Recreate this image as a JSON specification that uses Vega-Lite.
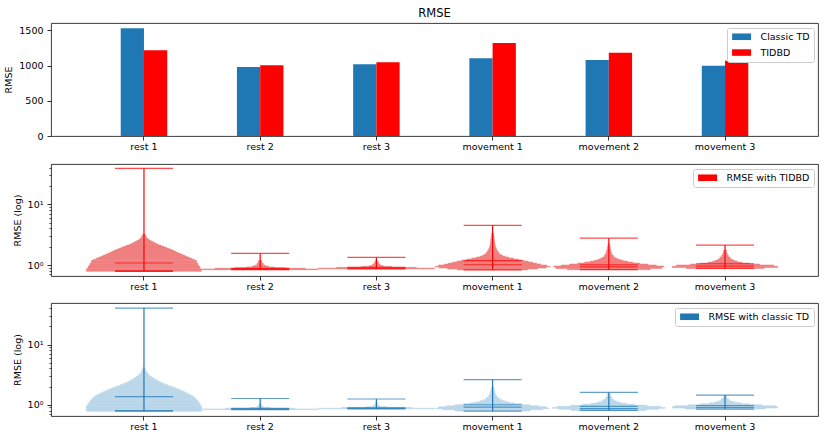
{
  "$schema": "https://vega.github.io/schema/vega-lite/v6.json",
  "background": "white",
  "padding": {"left": 3, "top": 7, "right": 12, "bottom": 0},
  "spacing": 10,
  "datasets": {
    "bars": [
      {"task": "rest 1", "method": "Classic TD", "rmse": 1528},
      {"task": "rest 1", "method": "TIDBD", "rmse": 1216},
      {"task": "rest 2", "method": "Classic TD", "rmse": 979},
      {"task": "rest 2", "method": "TIDBD", "rmse": 1003},
      {"task": "rest 3", "method": "Classic TD", "rmse": 1017},
      {"task": "rest 3", "method": "TIDBD", "rmse": 1046},
      {"task": "movement 1", "method": "Classic TD", "rmse": 1102},
      {"task": "movement 1", "method": "TIDBD", "rmse": 1320},
      {"task": "movement 2", "method": "Classic TD", "rmse": 1078},
      {"task": "movement 2", "method": "TIDBD", "rmse": 1182},
      {"task": "movement 3", "method": "Classic TD", "rmse": 998},
      {"task": "movement 3", "method": "TIDBD", "rmse": 1069}
    ],
    "tidbd": [
      {"task": "rest 1", "lo": 0.788, "hi": 0.871, "w": 0.989},
      {"task": "rest 1", "lo": 0.871, "hi": 0.963, "w": 0.961},
      {"task": "rest 1", "lo": 0.963, "hi": 1.072, "w": 0.932},
      {"task": "rest 1", "lo": 1.072, "hi": 1.194, "w": 0.903},
      {"task": "rest 1", "lo": 1.194, "hi": 1.247, "w": 0.865},
      {"task": "rest 1", "lo": 1.247, "hi": 1.302, "w": 0.82},
      {"task": "rest 1", "lo": 1.302, "hi": 1.352, "w": 0.777},
      {"task": "rest 1", "lo": 1.352, "hi": 1.404, "w": 0.738},
      {"task": "rest 1", "lo": 1.404, "hi": 1.458, "w": 0.698},
      {"task": "rest 1", "lo": 1.458, "hi": 1.514, "w": 0.657},
      {"task": "rest 1", "lo": 1.514, "hi": 1.573, "w": 0.618},
      {"task": "rest 1", "lo": 1.573, "hi": 1.634, "w": 0.578},
      {"task": "rest 1", "lo": 1.634, "hi": 1.697, "w": 0.542},
      {"task": "rest 1", "lo": 1.697, "hi": 1.762, "w": 0.508},
      {"task": "rest 1", "lo": 1.762, "hi": 1.829, "w": 0.469},
      {"task": "rest 1", "lo": 1.829, "hi": 1.899, "w": 0.426},
      {"task": "rest 1", "lo": 1.899, "hi": 1.972, "w": 0.383},
      {"task": "rest 1", "lo": 1.972, "hi": 2.048, "w": 0.34},
      {"task": "rest 1", "lo": 2.048, "hi": 2.127, "w": 0.295},
      {"task": "rest 1", "lo": 2.127, "hi": 2.21, "w": 0.248},
      {"task": "rest 1", "lo": 2.21, "hi": 2.295, "w": 0.208},
      {"task": "rest 1", "lo": 2.295, "hi": 2.383, "w": 0.176},
      {"task": "rest 1", "lo": 2.383, "hi": 2.475, "w": 0.144},
      {"task": "rest 1", "lo": 2.475, "hi": 2.57, "w": 0.111},
      {"task": "rest 1", "lo": 2.57, "hi": 2.669, "w": 0.084},
      {"task": "rest 1", "lo": 2.669, "hi": 2.771, "w": 0.063},
      {"task": "rest 1", "lo": 2.771, "hi": 2.988, "w": 0.04},
      {"task": "rest 1", "lo": 2.988, "hi": 3.222, "w": 0.022},
      {"task": "rest 2", "lo": 0.838, "hi": 0.86, "w": 0.998},
      {"task": "rest 2", "lo": 0.86, "hi": 0.883, "w": 0.775},
      {"task": "rest 2", "lo": 0.883, "hi": 0.905, "w": 0.43},
      {"task": "rest 2", "lo": 0.905, "hi": 0.927, "w": 0.241},
      {"task": "rest 2", "lo": 0.927, "hi": 0.963, "w": 0.138},
      {"task": "rest 2", "lo": 0.963, "hi": 1.0, "w": 0.086},
      {"task": "rest 2", "lo": 1.0, "hi": 1.078, "w": 0.052},
      {"task": "rest 2", "lo": 1.078, "hi": 1.185, "w": 0.028},
      {"task": "rest 3", "lo": 0.865, "hi": 0.89, "w": 0.998},
      {"task": "rest 3", "lo": 0.89, "hi": 0.915, "w": 0.688},
      {"task": "rest 3", "lo": 0.915, "hi": 0.94, "w": 0.258},
      {"task": "rest 3", "lo": 0.94, "hi": 0.98, "w": 0.12},
      {"task": "rest 3", "lo": 0.98, "hi": 1.03, "w": 0.069},
      {"task": "rest 3", "lo": 1.03, "hi": 1.1, "w": 0.038},
      {"task": "rest 3", "lo": 1.1, "hi": 1.18, "w": 0.021},
      {"task": "movement 1", "lo": 0.83, "hi": 0.86, "w": 0.602},
      {"task": "movement 1", "lo": 0.86, "hi": 0.893, "w": 0.775},
      {"task": "movement 1", "lo": 0.893, "hi": 0.927, "w": 0.921},
      {"task": "movement 1", "lo": 0.927, "hi": 0.945, "w": 0.993},
      {"task": "movement 1", "lo": 0.945, "hi": 1.0, "w": 0.933},
      {"task": "movement 1", "lo": 1.0, "hi": 1.038, "w": 0.826},
      {"task": "movement 1", "lo": 1.038, "hi": 1.078, "w": 0.757},
      {"task": "movement 1", "lo": 1.078, "hi": 1.12, "w": 0.685},
      {"task": "movement 1", "lo": 1.12, "hi": 1.163, "w": 0.611},
      {"task": "movement 1", "lo": 1.163, "hi": 1.208, "w": 0.534},
      {"task": "movement 1", "lo": 1.208, "hi": 1.254, "w": 0.444},
      {"task": "movement 1", "lo": 1.254, "hi": 1.302, "w": 0.358},
      {"task": "movement 1", "lo": 1.302, "hi": 1.352, "w": 0.279},
      {"task": "movement 1", "lo": 1.352, "hi": 1.404, "w": 0.215},
      {"task": "movement 1", "lo": 1.404, "hi": 1.459, "w": 0.17},
      {"task": "movement 1", "lo": 1.459, "hi": 1.514, "w": 0.138},
      {"task": "movement 1", "lo": 1.514, "hi": 1.634, "w": 0.108},
      {"task": "movement 1", "lo": 1.634, "hi": 1.762, "w": 0.083},
      {"task": "movement 1", "lo": 1.762, "hi": 1.899, "w": 0.064},
      {"task": "movement 1", "lo": 1.899, "hi": 2.048, "w": 0.052},
      {"task": "movement 1", "lo": 2.048, "hi": 2.21, "w": 0.043},
      {"task": "movement 1", "lo": 2.21, "hi": 2.383, "w": 0.036},
      {"task": "movement 1", "lo": 2.383, "hi": 2.668, "w": 0.031},
      {"task": "movement 1", "lo": 2.668, "hi": 2.988, "w": 0.024},
      {"task": "movement 1", "lo": 2.988, "hi": 3.347, "w": 0.017},
      {"task": "movement 2", "lo": 0.838, "hi": 0.876, "w": 0.714},
      {"task": "movement 2", "lo": 0.876, "hi": 0.927, "w": 0.912},
      {"task": "movement 2", "lo": 0.927, "hi": 0.963, "w": 0.947},
      {"task": "movement 2", "lo": 0.963, "hi": 1.0, "w": 0.818},
      {"task": "movement 2", "lo": 1.0, "hi": 1.038, "w": 0.671},
      {"task": "movement 2", "lo": 1.038, "hi": 1.078, "w": 0.534},
      {"task": "movement 2", "lo": 1.078, "hi": 1.12, "w": 0.413},
      {"task": "movement 2", "lo": 1.12, "hi": 1.163, "w": 0.318},
      {"task": "movement 2", "lo": 1.163, "hi": 1.208, "w": 0.241},
      {"task": "movement 2", "lo": 1.208, "hi": 1.254, "w": 0.181},
      {"task": "movement 2", "lo": 1.254, "hi": 1.302, "w": 0.138},
      {"task": "movement 2", "lo": 1.302, "hi": 1.352, "w": 0.107},
      {"task": "movement 2", "lo": 1.352, "hi": 1.459, "w": 0.077},
      {"task": "movement 2", "lo": 1.459, "hi": 1.575, "w": 0.053},
      {"task": "movement 2", "lo": 1.575, "hi": 1.762, "w": 0.038},
      {"task": "movement 2", "lo": 1.762, "hi": 1.973, "w": 0.026},
      {"task": "movement 2", "lo": 1.973, "hi": 2.21, "w": 0.017},
      {"task": "movement 3", "lo": 0.88, "hi": 0.91, "w": 0.671},
      {"task": "movement 3", "lo": 0.91, "hi": 0.952, "w": 0.907},
      {"task": "movement 3", "lo": 0.952, "hi": 1.0, "w": 0.838},
      {"task": "movement 3", "lo": 1.0, "hi": 1.038, "w": 0.594},
      {"task": "movement 3", "lo": 1.038, "hi": 1.078, "w": 0.422},
      {"task": "movement 3", "lo": 1.078, "hi": 1.12, "w": 0.293},
      {"task": "movement 3", "lo": 1.12, "hi": 1.163, "w": 0.21},
      {"task": "movement 3", "lo": 1.163, "hi": 1.208, "w": 0.158},
      {"task": "movement 3", "lo": 1.208, "hi": 1.254, "w": 0.122},
      {"task": "movement 3", "lo": 1.254, "hi": 1.352, "w": 0.088},
      {"task": "movement 3", "lo": 1.352, "hi": 1.459, "w": 0.057},
      {"task": "movement 3", "lo": 1.459, "hi": 1.575, "w": 0.038},
      {"task": "movement 3", "lo": 1.575, "hi": 1.762, "w": 0.024}
    ],
    "tidbd_stats": [
      {"task": "rest 1", "min": 0.788, "max": 38.9, "mean": 1.08, "median": 0.8},
      {"task": "rest 2", "min": 0.838, "max": 1.555, "mean": 0.88, "median": 0.86},
      {"task": "rest 3", "min": 0.865, "max": 1.34, "mean": 0.92, "median": 0.89},
      {"task": "movement 1", "min": 0.83, "max": 4.48, "mean": 1.18, "median": 1.01},
      {"task": "movement 2", "min": 0.838, "max": 2.77, "mean": 1.01, "median": 0.93},
      {"task": "movement 3", "min": 0.88, "max": 2.13, "mean": 1.05, "median": 0.96}
    ],
    "classic": [
      {"task": "rest 1", "lo": 0.779, "hi": 0.962, "w": 0.992},
      {"task": "rest 1", "lo": 0.962, "hi": 1.059, "w": 0.966},
      {"task": "rest 1", "lo": 1.059, "hi": 1.166, "w": 0.936},
      {"task": "rest 1", "lo": 1.166, "hi": 1.235, "w": 0.908},
      {"task": "rest 1", "lo": 1.235, "hi": 1.308, "w": 0.882},
      {"task": "rest 1", "lo": 1.308, "hi": 1.36, "w": 0.858},
      {"task": "rest 1", "lo": 1.36, "hi": 1.413, "w": 0.837},
      {"task": "rest 1", "lo": 1.413, "hi": 1.468, "w": 0.809},
      {"task": "rest 1", "lo": 1.468, "hi": 1.526, "w": 0.774},
      {"task": "rest 1", "lo": 1.526, "hi": 1.585, "w": 0.74},
      {"task": "rest 1", "lo": 1.585, "hi": 1.647, "w": 0.705},
      {"task": "rest 1", "lo": 1.647, "hi": 1.711, "w": 0.669},
      {"task": "rest 1", "lo": 1.711, "hi": 1.778, "w": 0.63},
      {"task": "rest 1", "lo": 1.778, "hi": 1.848, "w": 0.59},
      {"task": "rest 1", "lo": 1.848, "hi": 1.92, "w": 0.547},
      {"task": "rest 1", "lo": 1.92, "hi": 1.995, "w": 0.501},
      {"task": "rest 1", "lo": 1.995, "hi": 2.073, "w": 0.454},
      {"task": "rest 1", "lo": 2.073, "hi": 2.154, "w": 0.409},
      {"task": "rest 1", "lo": 2.154, "hi": 2.239, "w": 0.366},
      {"task": "rest 1", "lo": 2.239, "hi": 2.326, "w": 0.325},
      {"task": "rest 1", "lo": 2.326, "hi": 2.417, "w": 0.286},
      {"task": "rest 1", "lo": 2.417, "hi": 2.512, "w": 0.25},
      {"task": "rest 1", "lo": 2.512, "hi": 2.61, "w": 0.215},
      {"task": "rest 1", "lo": 2.61, "hi": 2.712, "w": 0.185},
      {"task": "rest 1", "lo": 2.712, "hi": 2.818, "w": 0.159},
      {"task": "rest 1", "lo": 2.818, "hi": 2.928, "w": 0.133},
      {"task": "rest 1", "lo": 2.928, "hi": 3.043, "w": 0.108},
      {"task": "rest 1", "lo": 3.043, "hi": 3.286, "w": 0.078},
      {"task": "rest 1", "lo": 3.286, "hi": 3.548, "w": 0.049},
      {"task": "rest 1", "lo": 3.548, "hi": 3.831, "w": 0.031},
      {"task": "rest 1", "lo": 3.831, "hi": 4.137, "w": 0.019},
      {"task": "rest 2", "lo": 0.83, "hi": 0.85, "w": 0.998},
      {"task": "rest 2", "lo": 0.85, "hi": 0.87, "w": 0.602},
      {"task": "rest 2", "lo": 0.87, "hi": 0.9, "w": 0.172},
      {"task": "rest 2", "lo": 0.9, "hi": 0.95, "w": 0.052},
      {"task": "rest 2", "lo": 0.95, "hi": 1.05, "w": 0.021},
      {"task": "rest 3", "lo": 0.855, "hi": 0.875, "w": 0.998},
      {"task": "rest 3", "lo": 0.875, "hi": 0.9, "w": 0.602},
      {"task": "rest 3", "lo": 0.9, "hi": 0.93, "w": 0.172},
      {"task": "rest 3", "lo": 0.93, "hi": 0.98, "w": 0.052},
      {"task": "rest 3", "lo": 0.98, "hi": 1.08, "w": 0.021},
      {"task": "movement 1", "lo": 0.785, "hi": 0.825, "w": 0.645},
      {"task": "movement 1", "lo": 0.825, "hi": 0.858, "w": 0.861},
      {"task": "movement 1", "lo": 0.858, "hi": 0.881, "w": 0.972},
      {"task": "movement 1", "lo": 0.881, "hi": 0.926, "w": 0.929},
      {"task": "movement 1", "lo": 0.926, "hi": 0.962, "w": 0.792},
      {"task": "movement 1", "lo": 0.962, "hi": 1.0, "w": 0.645},
      {"task": "movement 1", "lo": 1.0, "hi": 1.039, "w": 0.499},
      {"task": "movement 1", "lo": 1.039, "hi": 1.08, "w": 0.374},
      {"task": "movement 1", "lo": 1.08, "hi": 1.122, "w": 0.279},
      {"task": "movement 1", "lo": 1.122, "hi": 1.166, "w": 0.21},
      {"task": "movement 1", "lo": 1.166, "hi": 1.212, "w": 0.158},
      {"task": "movement 1", "lo": 1.212, "hi": 1.308, "w": 0.112},
      {"task": "movement 1", "lo": 1.308, "hi": 1.413, "w": 0.072},
      {"task": "movement 1", "lo": 1.413, "hi": 1.526, "w": 0.052},
      {"task": "movement 1", "lo": 1.526, "hi": 1.711, "w": 0.036},
      {"task": "movement 1", "lo": 1.711, "hi": 1.92, "w": 0.024},
      {"task": "movement 2", "lo": 0.803, "hi": 0.841, "w": 0.645},
      {"task": "movement 2", "lo": 0.841, "hi": 0.874, "w": 0.861},
      {"task": "movement 2", "lo": 0.874, "hi": 0.902, "w": 0.972},
      {"task": "movement 2", "lo": 0.902, "hi": 0.944, "w": 0.886},
      {"task": "movement 2", "lo": 0.944, "hi": 0.981, "w": 0.654},
      {"task": "movement 2", "lo": 0.981, "hi": 1.019, "w": 0.448},
      {"task": "movement 2", "lo": 1.019, "hi": 1.059, "w": 0.301},
      {"task": "movement 2", "lo": 1.059, "hi": 1.109, "w": 0.198},
      {"task": "movement 2", "lo": 1.109, "hi": 1.166, "w": 0.129},
      {"task": "movement 2", "lo": 1.166, "hi": 1.226, "w": 0.086},
      {"task": "movement 2", "lo": 1.226, "hi": 1.344, "w": 0.052},
      {"task": "movement 2", "lo": 1.344, "hi": 1.526, "w": 0.026},
      {"task": "movement 3", "lo": 0.848, "hi": 0.881, "w": 0.688},
      {"task": "movement 3", "lo": 0.881, "hi": 0.926, "w": 0.907},
      {"task": "movement 3", "lo": 0.926, "hi": 0.962, "w": 0.873},
      {"task": "movement 3", "lo": 0.962, "hi": 1.0, "w": 0.637},
      {"task": "movement 3", "lo": 1.0, "hi": 1.039, "w": 0.422},
      {"task": "movement 3", "lo": 1.039, "hi": 1.08, "w": 0.267},
      {"task": "movement 3", "lo": 1.08, "hi": 1.122, "w": 0.167},
      {"task": "movement 3", "lo": 1.122, "hi": 1.166, "w": 0.107},
      {"task": "movement 3", "lo": 1.166, "hi": 1.259, "w": 0.064},
      {"task": "movement 3", "lo": 1.259, "hi": 1.397, "w": 0.029}
    ],
    "classic_stats": [
      {"task": "rest 1", "min": 0.779, "max": 40.3, "mean": 1.36, "median": 0.8},
      {"task": "rest 2", "min": 0.83, "max": 1.27, "mean": 0.87, "median": 0.85},
      {"task": "rest 3", "min": 0.855, "max": 1.245, "mean": 0.89, "median": 0.875},
      {"task": "movement 1", "min": 0.785, "max": 2.61, "mean": 1.0, "median": 0.91},
      {"task": "movement 2", "min": 0.803, "max": 1.6, "mean": 0.94, "median": 0.86},
      {"task": "movement 3", "min": 0.848, "max": 1.45, "mean": 0.97, "median": 0.9}
    ]
  },
  "vconcat": [
    {
      "width": 767,
      "height": 113,
      "title": {"text": "RMSE", "fontSize": 11.5, "fontWeight": "normal", "color": "#000", "offset": 4, "frame": "group", "anchor": "middle"},
      "data": {"name": "bars"},
      "mark": {"type": "bar"},
      "encoding": {
        "x": {
          "field": "task",
          "type": "nominal",
          "sort": ["rest 1", "rest 2", "rest 3", "movement 1", "movement 2", "movement 3"],
          "scale": {"paddingInner": 0.6, "paddingOuter": 0.6},
          "axis": {"title": null, "labelAngle": 0, "labelPadding": 1.5, "tickSize": 4}
        },
        "xOffset": {
          "field": "method",
          "sort": ["Classic TD", "TIDBD"],
          "scale": {"paddingInner": 0, "paddingOuter": 0}
        },
        "y": {
          "field": "rmse",
          "type": "quantitative",
          "scale": {"domain": [0, 1603], "nice": false},
          "axis": {"title": "RMSE", "values": [0, 500, 1000, 1500], "format": "d"}
        },
        "color": {
          "field": "method",
          "type": "nominal",
          "scale": {"domain": ["Classic TD", "TIDBD"], "range": ["#1f77b4", "#ff0000"]},
          "legend": {"title": null, "rowPadding": 4.8}
        }
      }
    },
    {
      "width": 767,
      "height": 112,
      "layer": [
        {
          "data": {"name": "tidbd"},
          "mark": {"type": "bar", "color": "#f08080", "stroke": "#f08080", "strokeWidth": 0.6},
          "encoding": {
            "x": {
              "field": "task",
              "type": "nominal",
              "sort": ["rest 1", "rest 2", "rest 3", "movement 1", "movement 2", "movement 3"],
              "scale": {"domain": ["rest 1", "rest 2", "rest 3", "movement 1", "movement 2", "movement 3"], "paddingInner": 0.6, "paddingOuter": 0.6},
              "axis": {"title": null, "labelAngle": 0, "labelPadding": 1.5, "tickSize": 4}
            },
            "y": {
              "field": "lo",
              "type": "quantitative",
              "scale": {"type": "log", "domain": [0.66, 46], "nice": false},
              "axis": {
                "title": "RMSE (log)",
                "values": [0.7, 0.8, 0.9, 1, 2, 3, 4, 5, 6, 7, 8, 9, 10, 20, 30, 40],
                "labelExpr": "datum.value == 1 ? '10⁰' : datum.value == 10 ? '10¹' : ''",
                "labelOverlap": false,
                "tickSize": {"condition": {"test": "datum.value == 1 || datum.value == 10", "value": 4}, "value": 2.2},
                "tickWidth": {"condition": {"test": "datum.value == 1 || datum.value == 10", "value": 0.8}, "value": 0.6}
              }
            },
            "y2": {"field": "hi"},
            "size": {"field": "w", "type": "quantitative", "scale": {"domain": [0, 1], "range": [0, 116.2]}, "legend": null}
          }
        },
        {
          "data": {"name": "tidbd_stats"},
          "mark": {"type": "rule", "color": "#ff0000", "strokeWidth": 1.2},
          "encoding": {
            "x": {"field": "task", "type": "nominal", "sort": ["rest 1", "rest 2", "rest 3", "movement 1", "movement 2", "movement 3"]},
            "y": {"field": "min", "type": "quantitative"},
            "y2": {"field": "max"}
          }
        },
        {
          "data": {"name": "tidbd_stats"},
          "transform": [{"fold": ["min", "max", "mean", "median"], "as": ["stat", "value"]}],
          "mark": {"type": "tick", "size": 58, "thickness": 1.2},
          "encoding": {
            "x": {"field": "task", "type": "nominal", "sort": ["rest 1", "rest 2", "rest 3", "movement 1", "movement 2", "movement 3"]},
            "y": {"field": "value", "type": "quantitative"},
            "color": {
              "datum": "RMSE with TIDBD",
              "type": "nominal",
              "scale": {"range": ["#ff0000"]},
              "legend": {"title": null}
            }
          }
        }
      ]
    },
    {
      "width": 767,
      "height": 113,
      "layer": [
        {
          "data": {"name": "classic"},
          "mark": {"type": "bar", "color": "#bad6ea", "stroke": "#bad6ea", "strokeWidth": 0.6},
          "encoding": {
            "x": {
              "field": "task",
              "type": "nominal",
              "sort": ["rest 1", "rest 2", "rest 3", "movement 1", "movement 2", "movement 3"],
              "scale": {"domain": ["rest 1", "rest 2", "rest 3", "movement 1", "movement 2", "movement 3"], "paddingInner": 0.6, "paddingOuter": 0.6},
              "axis": {"title": null, "labelAngle": 0, "labelPadding": 1.5, "tickSize": 4}
            },
            "y": {
              "field": "lo",
              "type": "quantitative",
              "scale": {"type": "log", "domain": [0.65, 49], "nice": false},
              "axis": {
                "title": "RMSE (log)",
                "values": [0.7, 0.8, 0.9, 1, 2, 3, 4, 5, 6, 7, 8, 9, 10, 20, 30, 40],
                "labelExpr": "datum.value == 1 ? '10⁰' : datum.value == 10 ? '10¹' : ''",
                "labelOverlap": false,
                "tickSize": {"condition": {"test": "datum.value == 1 || datum.value == 10", "value": 4}, "value": 2.2},
                "tickWidth": {"condition": {"test": "datum.value == 1 || datum.value == 10", "value": 0.8}, "value": 0.6}
              }
            },
            "y2": {"field": "hi"},
            "size": {"field": "w", "type": "quantitative", "scale": {"domain": [0, 1], "range": [0, 116.2]}, "legend": null}
          }
        },
        {
          "data": {"name": "classic_stats"},
          "mark": {"type": "rule", "color": "#1f77b4", "strokeWidth": 1.2},
          "encoding": {
            "x": {"field": "task", "type": "nominal", "sort": ["rest 1", "rest 2", "rest 3", "movement 1", "movement 2", "movement 3"]},
            "y": {"field": "min", "type": "quantitative"},
            "y2": {"field": "max"}
          }
        },
        {
          "data": {"name": "classic_stats"},
          "transform": [{"fold": ["min", "max", "mean", "median"], "as": ["stat", "value"]}],
          "mark": {"type": "tick", "size": 58, "thickness": 1.2},
          "encoding": {
            "x": {"field": "task", "type": "nominal", "sort": ["rest 1", "rest 2", "rest 3", "movement 1", "movement 2", "movement 3"]},
            "y": {"field": "value", "type": "quantitative"},
            "color": {
              "datum": "RMSE with classic TD",
              "type": "nominal",
              "scale": {"range": ["#1f77b4"]},
              "legend": {"title": null}
            }
          }
        }
      ]
    }
  ],
  "resolve": {
    "scale": {"x": "independent", "y": "independent", "color": "independent", "size": "independent"},
    "legend": {"color": "independent", "size": "independent"}
  },
  "config": {
    "font": "DejaVu Sans",
    "view": {"stroke": "#262626", "strokeWidth": 0.9},
    "axis": {
      "domain": false,
      "grid": false,
      "labelFont": "DejaVu Sans",
      "labelFontSize": 9.5,
      "labelColor": "#000",
      "labelPadding": 4,
      "tickColor": "#000",
      "tickSize": 4,
      "tickWidth": 0.8,
      "titleFont": "DejaVu Sans",
      "titleFontSize": 9.5,
      "titleFontWeight": "normal",
      "titleColor": "#000",
      "titlePadding": 5
    },
    "legend": {
      "orient": "top-right",
      "offset": 4.5,
      "padding": 4,
      "strokeColor": "#cccccc",
      "fillColor": "white",
      "cornerRadius": 2,
      "labelFont": "DejaVu Sans",
      "labelFontSize": 9.5,
      "labelColor": "#000",
      "labelOffset": 20,
      "symbolType": "M-1,-0.9L4.2,-0.9L4.2,0.9L-1,0.9Z",
      "symbolSize": 53.3,
      "symbolStrokeWidth": 0,
      "symbolOpacity": 1
    }
  }
}
